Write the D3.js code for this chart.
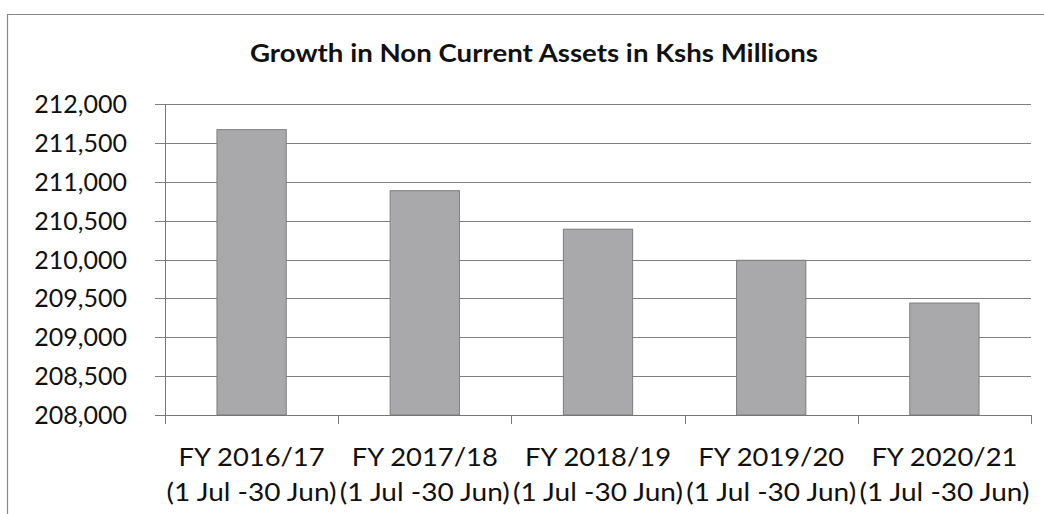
<!DOCTYPE html>
<html>
  <head>
    <meta charset="utf-8">
    <style>
        body { margin: 0; background: #fff; }
        text { font-family: Lato, "Open Sans", sans-serif; fill: #111; }
    </style>
    <script src="https://d3js.org/d3.v7.min.js"></script>
  </head>
  <body>
    <svg></svg>
    <script>
    // chart data
    var years = ["FY 2016/17", "FY 2017/18", "FY 2018/19", "FY 2019/20", "FY 2020/21"];
    var period = "(1 Jul -30 Jun)";
    var assets = [211670, 210885, 210390, 209990, 209440];
    var yTicks = [208000, 208500, 209000, 209500, 210000, 210500, 211000, 211500, 212000];

    var svg = d3.select("svg")
        .attr("width", 1044)
        .attr("height", 514);

    svg.append("rect").attr("width", 1044).attr("height", 514).attr("fill", "#fff");

    // frame of the chart (only top and left edges are visible in the scan)
    svg.append("path")
        .attr("d", "M7.5,514 V14.5 H1044")
        .attr("fill", "none")
        .attr("stroke", "#888")
        .attr("stroke-width", 1.2);

    var x = d3.scaleBand()
        .domain(years)
        .range([165, 1031])
        .paddingInner(0.6)
        .paddingOuter(0.3);

    var xb = d3.scaleBand().domain(years).range([165, 1031]);

    var y = d3.scaleLinear()
        .domain([208000, 212000])
        .range([415, 104]);

    // title (stretched a bit to mimic the condensed Calibri width)
    svg.append("text")
        .attr("x", 250)
        .attr("y", 62)
        .attr("font-size", "24px")
        .attr("font-weight", "bold")
        .attr("textLength", 568)
        .attr("lengthAdjust", "spacingAndGlyphs")
        .text("Growth in Non Current Assets in Kshs Millions");

    // gridlines
    svg.append("g")
        .selectAll("line")
        .data(yTicks)
        .enter().append("line")
          .attr("x1", 155)
          .attr("x2", 1031)
          .attr("y1", function(d) { return Math.round(y(d)) + 0.5; })
          .attr("y2", function(d) { return Math.round(y(d)) + 0.5; })
          .attr("stroke", "#7e7e7e")
          .attr("stroke-width", 1);

    // y labels
    svg.append("g")
        .selectAll("text")
        .data(yTicks)
        .enter().append("text")
          .attr("x", 127)
          .attr("y", function(d) { return y(d); })
          .attr("dy", "0.36em")
          .attr("text-anchor", "end")
          .attr("font-size", "25px")
          .text(d3.format(","));

    // bars
    svg.append("g")
        .selectAll("rect")
        .data(assets)
        .enter().append("rect")
          .attr("x", function(d, i) { return x(years[i]); })
          .attr("width", x.bandwidth())
          .attr("y", function(d) { return y(d); })
          .attr("height", function(d) { return y(208000) - y(d); })
          .attr("fill", "#a9a9ab")
          .attr("stroke", "#7d7d7d")
          .attr("stroke-width", 1);

    // axes lines
    svg.append("line")
        .attr("x1", 165.5).attr("x2", 165.5)
        .attr("y1", 104).attr("y2", 424)
        .attr("stroke", "#777");

    svg.append("line")
        .attr("x1", 155).attr("x2", 1031)
        .attr("y1", 415.5).attr("y2", 415.5)
        .attr("stroke", "#777");

    // x tick marks at category boundaries
    var bounds = years.map(function(d) { return xb(d); }).concat([1031]);
    svg.append("g")
        .selectAll("line")
        .data(bounds)
        .enter().append("line")
          .attr("x1", function(d) { return Math.round(d) + 0.5; })
          .attr("x2", function(d) { return Math.round(d) + 0.5; })
          .attr("y1", 415)
          .attr("y2", 424)
          .attr("stroke", "#777");

    // category labels
    var cat = svg.append("g")
        .selectAll("g")
        .data(years)
        .enter().append("g")
          .attr("transform", function(d) { return "translate(" + (xb(d) + xb.bandwidth() / 2) + ",0)"; });

    cat.append("text")
        .attr("x", -73)
        .attr("y", 466)
        .attr("font-size", "25px")
        .attr("textLength", 146)
        .attr("lengthAdjust", "spacingAndGlyphs")
        .text(function(d) { return d; });

    cat.append("text")
        .attr("x", -85)
        .attr("y", 501)
        .attr("font-size", "25px")
        .attr("textLength", 170)
        .attr("lengthAdjust", "spacingAndGlyphs")
        .text(period);
    </script>
  </body>
</html>
